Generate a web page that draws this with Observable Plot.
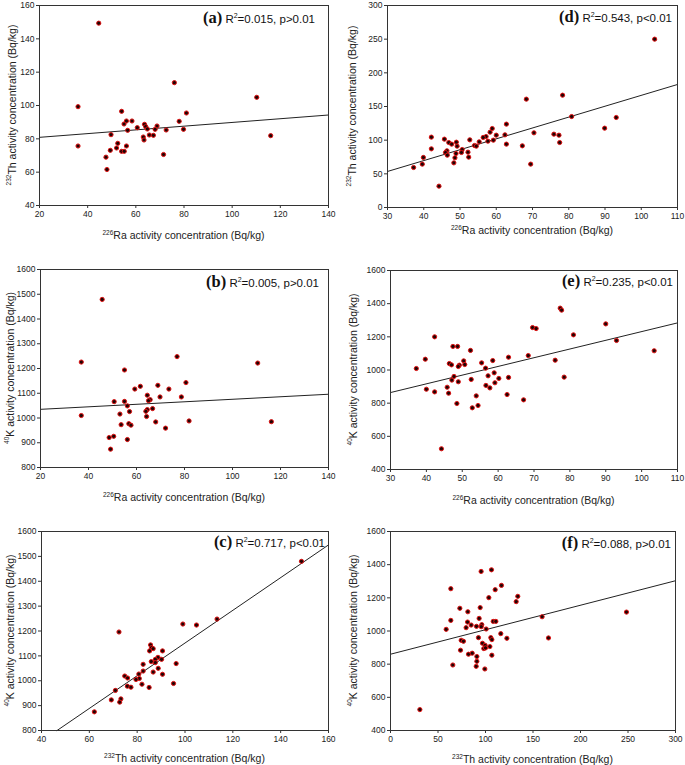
<!DOCTYPE html>
<html>
<head>
<meta charset="utf-8">
<script src="https://cdn.jsdelivr.net/npm/d3@7"></script>
<script src="https://cdn.jsdelivr.net/npm/@observablehq/plot@0.6"></script>
<style>
  html, body { margin: 0; padding: 0; background: #fff; }
  #root { position: relative; width: 685px; height: 765px; background: #fff; }
  #root svg { position: absolute; }
</style>
</head>
<body>
<div id="root"></div>
<script>
// ---------- data ----------
// (a) 226Ra vs 232Th  (region 1)
const aRa = [44.6,36.0,36.0,76.0,110.2,116.0,54.1,56.1,58.4,55.1,56.6,60.6,63.6,64.1,64.8,68.8,68.0,72.6,78.0,81.0,79.8,65.6,67.3,63.1,63.4,49.7,52.5,52.0,56.1,54.1,55.2,49.4,47.6,48.0,71.5];
const aTh = [149.4,99.3,75.7,113.7,104.9,81.9,96.5,90.7,90.7,88.9,85.1,86.7,88.7,87.3,85.9,87.7,85.7,85.3,90.5,95.5,85.7,82.3,82.1,81.1,79.3,82.5,77.3,74.5,75.7,72.5,72.5,73.1,69.0,61.6,70.6];
const aLineX = [20, 140], aLineY = [80.9, 94.3];

// (b) 226Ra vs 40K (region 1)
const bRa = [45.7,37.0,37.0,76.9,110.5,116.2,55.0,59.3,61.6,68.9,73.5,80.6,78.7,69.8,64.5,65.7,65.0,66.7,64.5,63.9,64.2,68.0,72.1,81.9,50.7,55.0,56.2,57.1,53.1,56.8,57.7,53.6,56.2,50.5,48.6,49.2];
const bK  = [1479,1226,1010,1248,1222,985,1194,1117,1128,1132,1117,1143,1085,1085,1092,1074,1070,1038,1034,1027,1006,984,959,988,1066,1067,1049,1026,1016,977,971,973,913,926,921,874];
const bLineX = [20, 140], bLineY = [1035, 1096];

// (c) 232Th vs 40K (region 1)
const cTh = [148.7,113.4,99.1,104.8,72.4,85.6,86.0,86.7,85.2,90.6,88.7,87.6,90.2,85.9,87.6,96.3,82.5,88.8,82.5,86.7,90.6,80.7,74.8,76.0,80.9,79.5,82.0,75.9,77.4,85.0,95.2,70.9,69.2,73.2,72.7,62.1];
const cK  = [1480,1248,1228,1224,1196,1144,1133,1129,1120,1120,1094,1086,1086,1077,1073,1069,1066,1050,1039,1035,1026,1027,1019,1011,1009,1005,986,978,974,973,989,961,923,927,914,875];
const cLineX = [46.5, 160], cLineY = [800, 1546];

// (d) 226Ra vs 232Th (region 2)
const dRa = [103.7,78.3,68.3,80.8,93.1,89.9,75.9,77.3,77.5,70.4,69.5,67.2,62.8,62.4,62.8,58.9,58.3,60.0,59.2,57.2,56.4,57.7,55.3,54.0,54.5,52.7,45.7,46.9,47.7,49.0,49.2,50.6,50.4,46.4,46.0,46.5,48.9,48.6,48.3,52.2,52.4,42.1,42.1,39.9,39.6,37.2,44.2];
const dTh = [250,166.8,160.9,135.1,133.7,117.8,108.9,107.4,96.5,110.9,64.4,91.6,123.8,107.9,94.1,117.3,111.9,107.4,100,105.4,104,98.5,97.5,92.1,91.1,100.5,101.5,96.5,94.1,97.0,91.1,86.1,81.7,84.2,81.7,77.7,80.2,73.8,66.3,82.2,74.8,104.5,87.1,74.3,64.4,59.4,31.7];
const dLineX = [30, 110], dLineY = [53.5, 182.7];

// (e) 226Ra vs 40K (region 2)
const eRa = [77.3,77.7,69.6,70.6,90.0,81.0,93.0,103.5,75.9,78.4,68.4,62.9,62.9,62.5,67.1,58.5,55.4,56.5,58.9,57.2,60.2,59.1,56.6,57.7,52.3,48.7,47.4,50.4,50.7,49.2,48.9,46.4,47.0,47.7,47.1,48.9,52.5,45.8,46.2,48.5,53.9,52.8,54.4,42.3,39.7,37.2,40.0,42.3,44.2];
const eK  = [1373,1361,1256,1250,1278,1212,1178,1116,1059,957,1087,1077,955,852,820,1057,1043,1011,983,965,949,923,907,892,1118,1142,1142,1055,1033,1029,1021,1039,1031,961,939,929,943,896,860,798,844,772,786,1200,1065,1009,884,868,525];
const eLineX = [30, 110], eLineY = [864, 1284];

// (f) 232Th vs 40K (region 2)
const fTh = [30.9,65.6,58.6,63.5,63.5,73.0,74.4,76.8,73.7,79.6,81.1,81.4,84.9,82.1,86.0,90.9,90.9,90.2,90.5,92.6,93.3,94.4,96.1,95.4,106.3,110.2,116.8,103.5,108.1,110.9,96.8,98.2,99.6,100.0,104.6,105.6,106.7,106.7,99.3,116.1,122.5,132.3,134.0,159.6,166.3,248.4,100.7,95.5];
const fK  = [526,795,1010,1064,1255,1137,944,938,884,1020,1054,1116,1036,860,866,846,817,787,1028,960,1076,1141,1038,1359,1369,1249,1275,1201,1058,1058,926,894,914,898,906,960,948,854,771,984,956,1177,1209,1086,958,1114,1012,1026];
const fLineX = [0, 300], fLineY = [860, 1303];

// ticks
const ticksRa1 = [20,40,60,80,100,120,140];
const ticksTh1y = [40,60,80,100,120,140,160];
const ticksK1 = [800,900,1000,1100,1200,1300,1400,1500,1600];
const ticksTh1x = [40,60,80,100,120,140,160];
const ticksRa2 = [30,40,50,60,70,80,90,100,110];
const ticksTh2y = [0,50,100,150,200,250,300];
const ticksK2 = [400,600,800,1000,1200,1400,1600];
const ticksTh2x = [0,50,100,150,200,250,300];

// labels
const tags = ["(a)","(b)","(c)","(d)","(e)","(f)"];
const stats = [["0.015","p>0.01"],["0.005","p>0.01"],["0.717","p<0.01"],["0.543","p<0.01"],["0.235","p<0.01"],["0.088","p>0.01"]];
const titleRa = ["226","Ra activity concentration (Bq/kg)"];
const titleTh = ["232","Th activity concentration (Bq/kg)"];
const titleK  = ["40","K activity concentration (Bq/kg)"];

const SANS = "'Liberation Sans', Arial, sans-serif";
const SERIF = "'Liberation Serif', 'Times New Roman', serif";
const root = document.getElementById("root");
const fmt = d3.format("d");

function zip(xs, ys) { return xs.map((x, i) => ({x, y: ys[i]})); }

function panel(o) {
  const pts = zip(o.xs, o.ys);
  const line = zip(o.lx, o.ly);
  const svg = Plot.plot({
    width: o.w, height: o.h,
    marginLeft: o.m[0], marginRight: o.m[1], marginTop: o.m[2], marginBottom: o.m[3],
    style: {fontSize: "8.5px", fontFamily: SANS, color: "#222", background: "#fff", overflow: "visible"},
    x: {domain: o.xd}, y: {domain: o.yd},
    marks: [
      Plot.axisX({ticks: o.xt, tickFormat: fmt, tickSize: 3, tickPadding: 2, label: null, stroke: "#333"}),
      Plot.axisY({ticks: o.yt, tickFormat: fmt, tickSize: 3, tickPadding: 2, label: null, stroke: "#333"}),
      Plot.line(line, {x: "x", y: "y", stroke: "#222", strokeWidth: 1}),
      Plot.dot(pts, {x: "x", y: "y", r: 2.1, fill: "#200404", stroke: "#e01212", strokeWidth: 1}),
      Plot.frame({stroke: "#333", strokeWidth: 1})
    ]
  });
  svg.style.left = o.left + "px";
  svg.style.top = o.top + "px";
  const s = d3.select(svg);
  const fl = o.m[0], fr = o.w - o.m[1], ft = o.m[2], fb = o.h - o.m[3];
  // x title
  const xt = s.append("text").attr("x", (fl + fr) / 2).attr("y", fb + o.xty)
    .attr("text-anchor", "middle").attr("font-family", SANS).attr("font-size", 10.5).attr("fill", "#222");
  xt.append("tspan").attr("font-size", 6.5).attr("dy", -4).text(o.xtitle[0]);
  xt.append("tspan").attr("dy", 4).text(o.xtitle[1]);
  // y title
  const yt = s.append("text").attr("transform", `translate(${o.ytx},${(ft + fb) / 2}) rotate(-90)`)
    .attr("text-anchor", "middle").attr("font-family", SANS).attr("font-size", 10.5).attr("fill", "#222").attr("dy", "0.35em");
  yt.append("tspan").attr("font-size", 6.5).attr("dy", "-0.1em").text(o.ytitle[0]);
  yt.append("tspan").attr("dy", "0.45em").text(o.ytitle[1]);
  // annotation
  const an = s.append("text").attr("x", o.ax).attr("y", ft + o.ay).attr("text-anchor", "end").attr("fill", "#111");
  an.append("tspan").attr("font-family", SERIF).attr("font-weight", "bold").attr("font-size", 16.5).text(o.tag);
  an.append("tspan").attr("font-family", SANS).attr("font-size", 11.5).text(" R");
  an.append("tspan").attr("font-family", SANS).attr("font-size", 7).attr("dy", -5).text("2");
  an.append("tspan").attr("font-family", SANS).attr("font-size", 11.5).attr("dy", 5).text("=" + o.stat[0] + ", " + o.stat[1]);
  root.appendChild(svg);
}

panel({left: 0, top: 0, w: 340, h: 255, m: [39, 12, 5, 50], xd: [20, 140], yd: [40, 160], xt: ticksRa1, yt: ticksTh1y,
  xs: aRa, ys: aTh, lx: aLineX, ly: aLineY, xtitle: titleRa, ytitle: titleTh, tag: tags[0], stat: stats[0],
  xty: 34, ytx: 12, ax: 315, ay: 18});
panel({left: 0, top: 255, w: 340, h: 255, m: [40, 12, 14, 43], xd: [20, 140], yd: [800, 1600], xt: ticksRa1, yt: ticksK1,
  xs: bRa, ys: bK, lx: bLineX, ly: bLineY, xtitle: titleRa, ytitle: titleK, tag: tags[1], stat: stats[1],
  xty: 34, ytx: 10, ax: 319, ay: 18});
panel({left: 0, top: 510, w: 340, h: 255, m: [41, 12, 21, 35], xd: [40, 160], yd: [800, 1600], xt: ticksTh1x, yt: ticksK1,
  xs: cTh, ys: cK, lx: cLineX, ly: cLineY, xtitle: titleTh, ytitle: titleK, tag: tags[2], stat: stats[2],
  xty: 32, ytx: 10, ax: 325, ay: 16});
panel({left: 340, top: 0, w: 345, h: 255, m: [47, 8, 5, 48], xd: [30, 110], yd: [0, 300], xt: ticksRa2, yt: ticksTh2y,
  xs: dRa, ys: dTh, lx: dLineX, ly: dLineY, xtitle: titleRa, ytitle: titleTh, tag: tags[3], stat: stats[3],
  xty: 27, ytx: 12, ax: 332, ay: 17});
panel({left: 340, top: 255, w: 345, h: 255, m: [50, 8, 15, 41], xd: [30, 110], yd: [400, 1600], xt: ticksRa2, yt: ticksK2,
  xs: eRa, ys: eK, lx: eLineX, ly: eLineY, xtitle: titleRa, ytitle: titleK, tag: tags[4], stat: stats[4],
  xty: 35, ytx: 13, ax: 333, ay: 16});
panel({left: 340, top: 510, w: 345, h: 255, m: [50, 10, 21, 35], xd: [0, 300], yd: [400, 1600], xt: ticksTh2x, yt: ticksK2,
  xs: fTh, ys: fK, lx: fLineX, ly: fLineY, xtitle: titleTh, ytitle: titleK, tag: tags[5], stat: stats[5],
  xty: 33, ytx: 13, ax: 331, ay: 17});
</script>
</body>
</html>
